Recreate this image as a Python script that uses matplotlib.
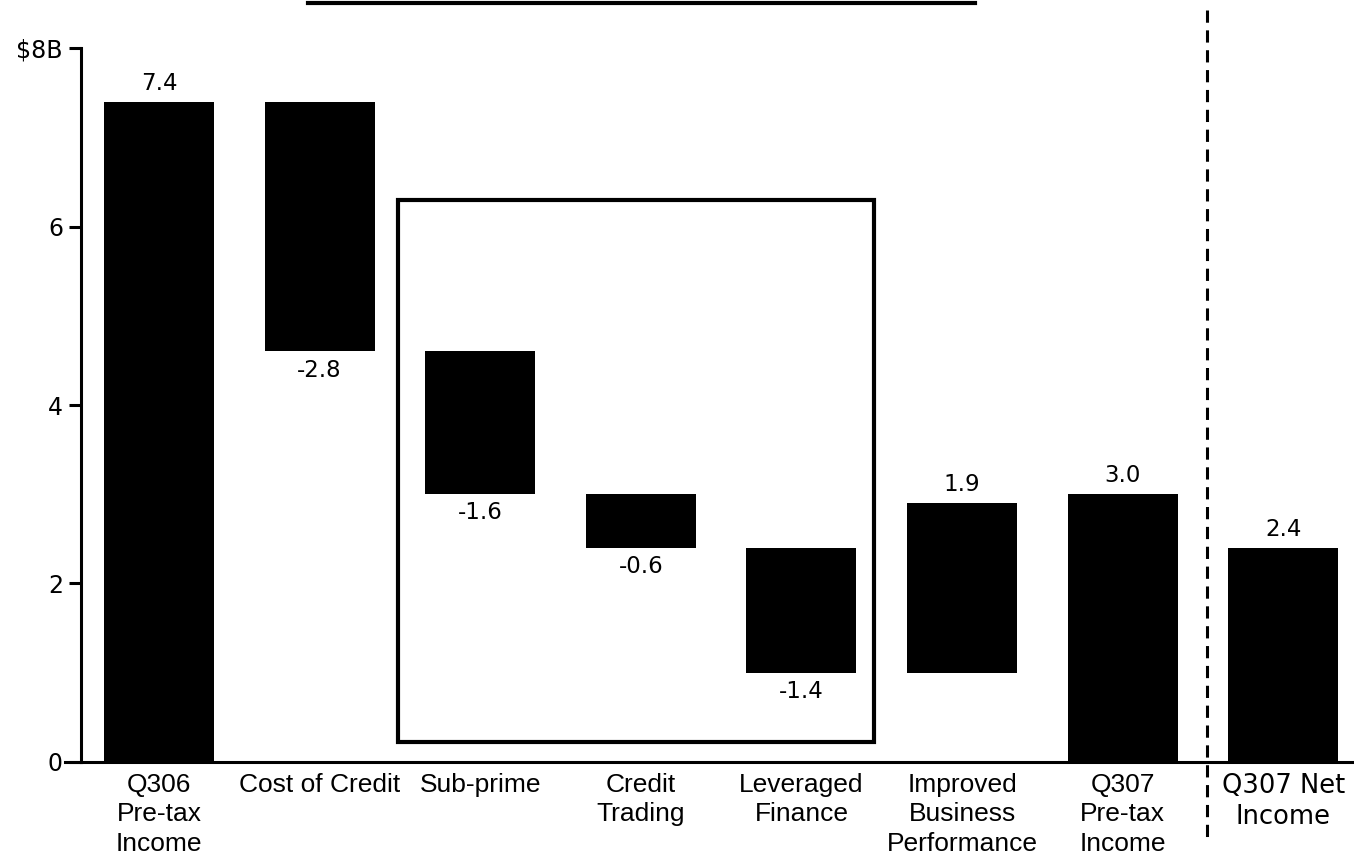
import matplotlib.pyplot as plt
from matplotlib.lines import Line2D
from matplotlib.patches import Rectangle
import numpy as np

# Waterfall: Q3 2006 pre-tax income to Q3 2007
categories = ['Q306\nPre-tax\nIncome', 'Cost of Credit', 'Sub-prime', 'Credit\nTrading',
              'Leveraged\nFinance', 'Improved\nBusiness\nPerformance', 'Q307\nPre-tax\nIncome',
              'Q307 Net\nIncome']
start_value = 7.4
changes = [-2.8, -1.6, -0.6, -1.4, 1.9]
q307_pretax = 3.0
q307_net = 2.4

ytick_vals = [0, 2, 4, 6, 8]
ytick_labels = ['0', '2', '4', '6', '$8B']

fig = plt.figure(figsize=(13.54, 8.59), dpi=100)
ax = fig.add_axes([0.0598, 0.113, 1 - 0.0598, 0.944 - 0.113])

xpos = np.arange(len(categories), dtype=float)
width = 0.685

bottoms = [0.0]
heights = [start_value]
labels = ['%.1f' % start_value]
level = start_value
for c in changes:
    new = level + c
    bottoms.append(min(level, new))
    heights.append(abs(c))
    labels.append('%.1f' % c)
    level = new
bottoms += [0.0, 0.0]
heights += [q307_pretax, q307_net]
labels += ['%.1f' % q307_pretax, '%.1f' % q307_net]

ax.bar(xpos, heights, width=width, bottom=bottoms, color='black', zorder=3)

for i, (b, h, lab) in enumerate(zip(bottoms, heights, labels)):
    if lab.startswith('-'):
        ax.text(xpos[i], b - 0.08, lab, ha='center', va='top', fontsize=16.5, family='DejaVu Sans')
    else:
        ax.text(xpos[i], b + h + 0.08, lab, ha='center', va='bottom', fontsize=16.5, family='DejaVu Sans')

# box around the credit-related write-downs
ax.add_patch(Rectangle((1.49, 0.22), 4.45 - 1.49, 6.30 - 0.22, fill=False,
                       edgecolor='black', lw=3, zorder=4))

ax.set_xlim(-0.486, 7.44)
ax.set_ylim(0, 8)
ax.set_yticks(ytick_vals)
ax.set_yticklabels(ytick_labels, fontsize=17, family='DejaVu Sans')
ax.set_xticks(xpos)
ax.set_xticklabels(categories, fontsize=19, linespacing=1.28)
for i, t in enumerate(ax.get_xticklabels()):
    if i == len(categories) - 1:
        t.set_family('DejaVu Sans')
        t.set_fontsize(18.5)
        t.set_linespacing(1.24)
    else:
        t.set_family(['Liberation Sans', 'DejaVu Sans'])
ax.tick_params(axis='x', length=0, pad=8)
ax.tick_params(axis='y', length=9, width=2.2, pad=4)

for s in ['top', 'right']:
    ax.spines[s].set_visible(False)
ax.spines['left'].set_linewidth(2.2)
ax.spines['bottom'].set_linewidth(2.2)

# short extension of the base line left of the axis
fig.add_artist(Line2D([65 / 1354, 81 / 1354], [0.113, 0.113], color='black', lw=2.2))

# separator between pre-tax and net income
fig.add_artist(Line2D([1207 / 1354, 1207 / 1354], [0.988, 0.022], color='black',
                      lw=2.2, linestyle=(0, (4, 2.5))))

# rule across the top
fig.add_artist(Line2D([308 / 1354, 975 / 1354], [1 - 3 / 859, 1 - 3 / 859], color='black', lw=3))

fig.savefig('out.png', dpi=100)
